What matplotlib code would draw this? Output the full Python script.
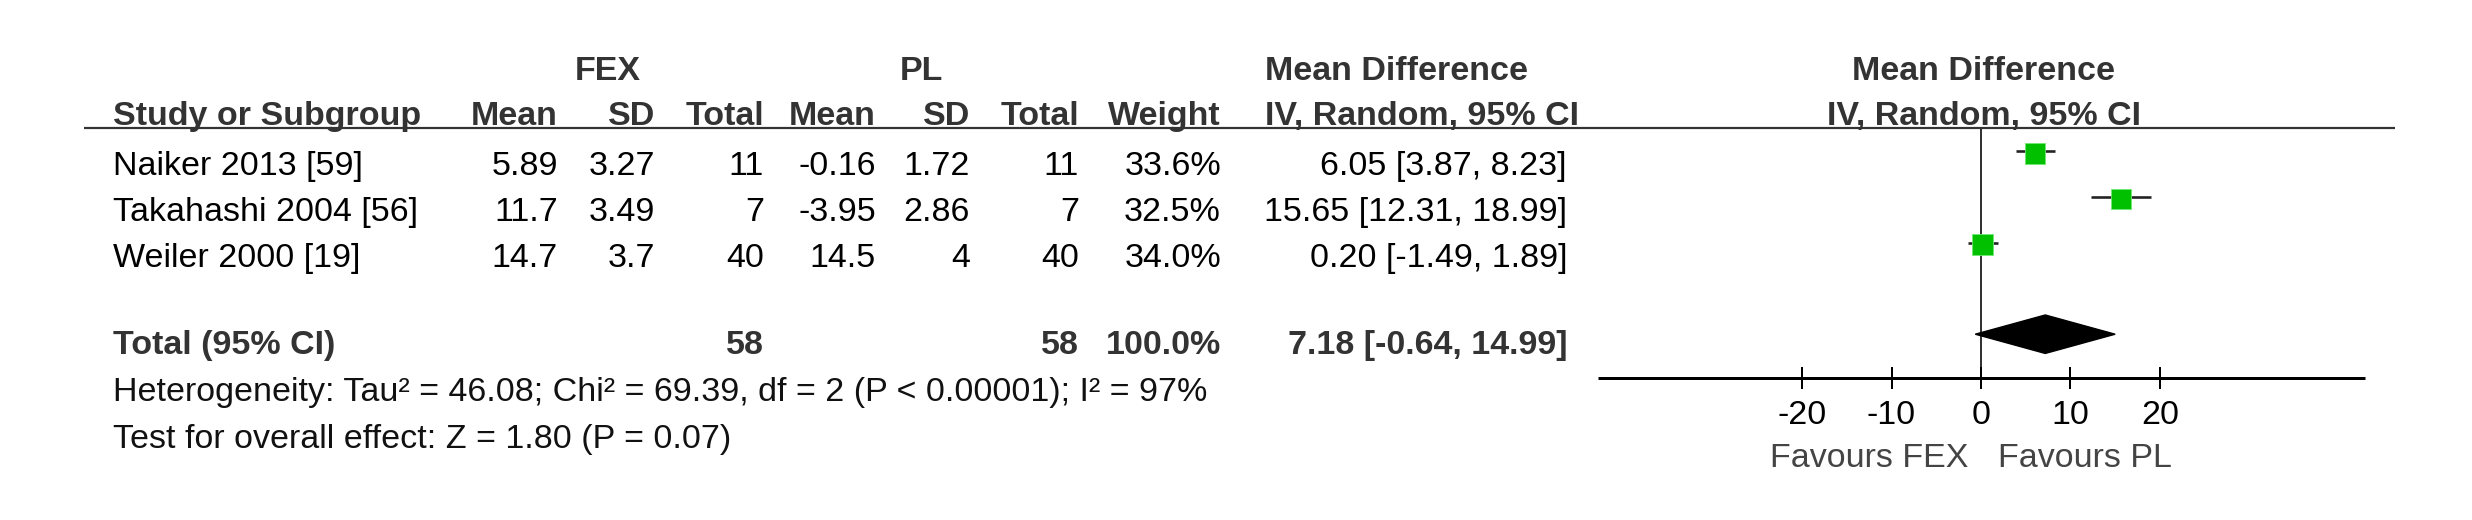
import numpy as np
import matplotlib
matplotlib.use("Agg")
import matplotlib.pyplot as plt
from matplotlib.patches import Polygon

plt.rcParams['font.family'] = ['Liberation Sans', 'DejaVu Sans']

# data
studies = ["Naiker 2013 [59]", "Takahashi 2004 [56]", "Weiler 2000 [19]"]
fex_mean = [5.89, 11.7, 14.7]
fex_sd = [3.27, 3.49, 3.7]
fex_n = [11, 7, 40]
pl_mean = [-0.16, -3.95, 14.5]
pl_sd = [1.72, 2.86, 4]
pl_n = [11, 7, 40]
weight = [33.6, 32.5, 34.0]
md = [6.05, 15.65, 0.20]
md_lo = [3.87, 12.31, -1.49]
md_hi = [8.23, 18.99, 1.89]
total_label = "Total (95% CI)"
total_fex_n = 58
total_pl_n = 58
total_weight = 100.0
total_md, total_lo, total_hi = 7.18, -0.64, 14.99
hetero = "Heterogeneity: Tau² = 46.08; Chi² = 69.39, df = 2 (P < 0.00001); I² = 97%"
overall = "Test for overall effect: Z = 1.80 (P = 0.07)"
xticks = [-20, -10, 0, 10, 20]
fav_left, fav_right = "Favours FEX", "Favours PL"

W, H = 2472, 520
fig = plt.figure(figsize=(W / 100, H / 100), dpi=100)
ax = fig.add_axes([0, 0, 1, 1])
ax.set_xlim(0, W)
ax.set_ylim(H, 0)
ax.axis('off')

FS = 24.5
HDR = '#333333'
px = 0.72  # points per pixel

# column right edges
col_fex_mean, col_fex_sd, col_fex_n = 558, 655, 764
col_pl_mean, col_pl_sd, col_pl_n = 876, 970, 1079
col_w, col_ci = 1221, 1567
x_name = 113

def t(x, y, s, ha='right', bold=False, color='black'):
    ax.text(x, y, s, ha=ha, va='baseline', fontsize=FS,
            fontweight='bold' if bold else 'normal', color=color)

# header
t(608, 80, "FEX", ha='center', bold=True, color=HDR)
t(921, 80, "PL", ha='center', bold=True, color=HDR)
t(1265, 80, "Mean Difference", ha='left', bold=True, color=HDR)
t(1984, 80, "Mean Difference", ha='center', bold=True, color=HDR)
hdr_y = 125
t(x_name, hdr_y, "Study or Subgroup", ha='left', bold=True, color=HDR)
for x, s in [(col_fex_mean, "Mean"), (col_fex_sd, "SD"), (col_fex_n, "Total"),
             (col_pl_mean, "Mean"), (col_pl_sd, "SD"), (col_pl_n, "Total"),
             (col_w, "Weight")]:
    t(x, hdr_y, s, bold=True, color=HDR)
t(1265, hdr_y, "IV, Random, 95% CI", ha='left', bold=True, color=HDR)
t(1984, hdr_y, "IV, Random, 95% CI", ha='center', bold=True, color=HDR)
ax.plot([84, 2395], [128, 128], color=HDR, lw=2.2 * px, solid_capstyle='butt')

# study rows
row_base = [175, 221, 267]
for i, name in enumerate(studies):
    y = row_base[i]
    t(x_name, y, name, ha='left')
    t(col_fex_mean, y, f"{fex_mean[i]:g}")
    t(col_fex_sd, y, f"{fex_sd[i]:g}")
    t(col_fex_n, y, f"{fex_n[i]}")
    t(col_pl_mean, y, f"{pl_mean[i]:g}")
    t(col_pl_sd, y, f"{pl_sd[i]:g}")
    t(col_pl_n, y, f"{pl_n[i]}")
    t(col_w, y, f"{weight[i]:.1f}%")
    t(col_ci, y, f"{md[i]:.2f} [{md_lo[i]:.2f}, {md_hi[i]:.2f}]")

# total row
ty = 354
t(x_name, ty, total_label, ha='left', bold=True, color=HDR)
t(col_fex_n, ty, f"{total_fex_n}", bold=True, color=HDR)
t(col_pl_n, ty, f"{total_pl_n}", bold=True, color=HDR)
t(col_w, ty, f"{total_weight:.1f}%", bold=True, color=HDR)
t(col_ci, ty, f"{total_md:.2f} [{total_lo:.2f}, {total_hi:.2f}]", bold=True, color=HDR)
t(x_name, 401, hetero, ha='left', color='#111111')
t(x_name, 448, overall, ha='left', color='#111111')

# forest panel
fx0, fx1, fy_top, fy_bot = 1597.5, 2364.5, 128, 378
fa = fig.add_axes([fx0 / W, 1 - fy_bot / H, (fx1 - fx0) / W, (fy_bot - fy_top) / H])
fa.set_xlim(-42.85, 42.85)
fa.set_ylim(4.956, -0.502)
fa.patch.set_alpha(0)
for s in ['top', 'right', 'left']:
    fa.spines[s].set_visible(False)
fa.spines['bottom'].set_linewidth(3 * px)
fa.spines['bottom'].set_capstyle('butt')
fa.set_yticks([])
fa.set_xticks(xticks)
fa.set_xticklabels([f"{v}" for v in xticks], fontsize=FS)
fa.tick_params(axis='x', direction='inout', length=22 * px, width=2 * px, pad=8)

fa.axvline(0, color='#333333', lw=2 * px, zorder=1)
rows = np.arange(len(studies))
fa.hlines(rows, md_lo, md_hi, color='#222222', lw=2.6 * px, zorder=2)
sizes = (20.8 * np.sqrt(np.array(weight) / 34.0) * px) ** 2
fa.scatter(md, rows + 0.05, s=sizes, marker='s', color='#00C000',
           edgecolors='#70E870', linewidths=0.6, zorder=3)
dy = 4
diamond = Polygon([[total_lo, dy], [total_md, dy - 0.42], [total_hi, dy], [total_md, dy + 0.42]],
                  closed=True, color='black', zorder=3)
fa.add_patch(diamond)

ax.text(1968, 467, fav_left, ha='right', va='baseline', fontsize=FS, color='#444444')
ax.text(1998, 467, fav_right, ha='left', va='baseline', fontsize=FS, color='#444444')

fig.savefig("out.png", dpi=100)
